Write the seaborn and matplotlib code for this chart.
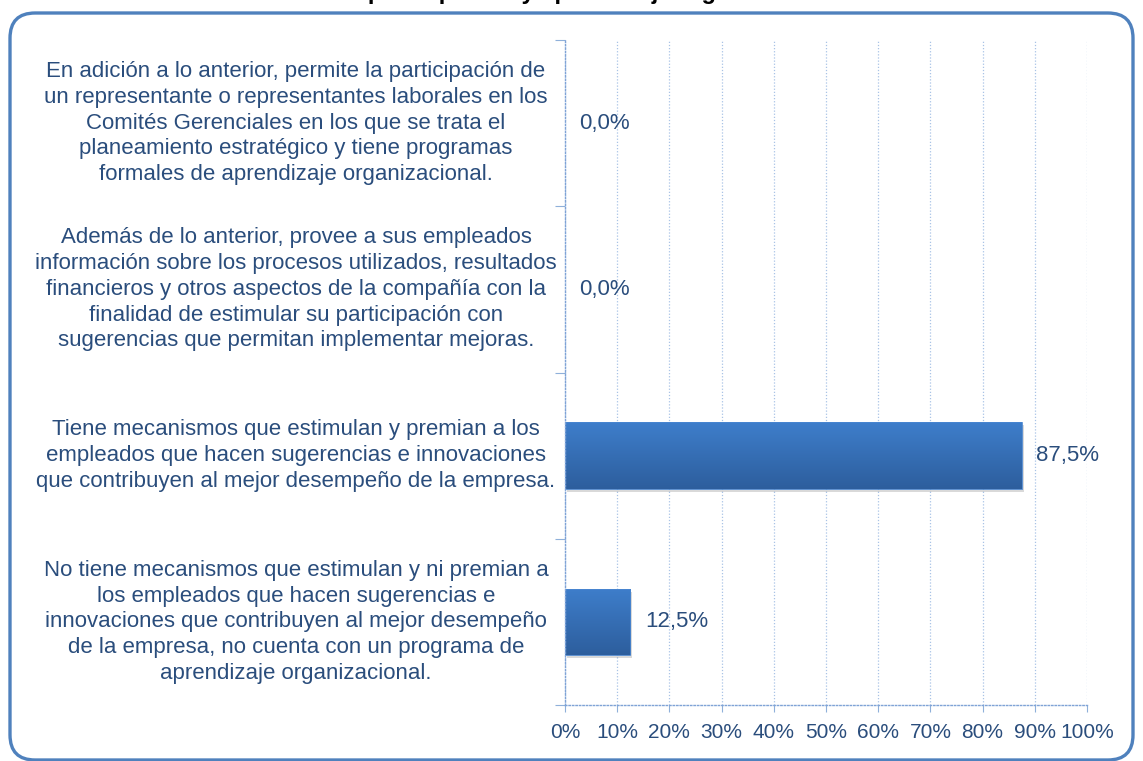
import numpy as np
import pandas as pd
import matplotlib
matplotlib.use("Agg")
import matplotlib.pyplot as plt
import seaborn as sns
from matplotlib.patches import FancyBboxPatch, Rectangle
from matplotlib.colors import LinearSegmentedColormap
import matplotlib.transforms as mtransforms

categories = [
    "En adición a lo anterior, permite la participación de\nun representante o representantes laborales en los\nComités Gerenciales en los que se trata el\nplaneamiento estratégico y tiene programas\nformales de aprendizaje organizacional.",
    "Además de lo anterior, provee a sus empleados\ninformación sobre los procesos utilizados, resultados\nfinancieros y otros aspectos de la compañía con la\nfinalidad de estimular su participación con\nsugerencias que permitan implementar mejoras.",
    "Tiene mecanismos que estimulan y premian a los\nempleados que hacen sugerencias e innovaciones\nque contribuyen al mejor desempeño de la empresa.",
    "No tiene mecanismos que estimulan y ni premian a\nlos empleados que hacen sugerencias e\ninnovaciones que contribuyen al mejor desempeño\nde la empresa, no cuenta con un programa de\naprendizaje organizacional.",
]
values = [0.0, 0.0, 87.5, 12.5]
value_labels = ["0,0%", "0,0%", "87,5%", "12,5%"]
xticks = [0, 10, 20, 30, 40, 50, 60, 70, 80, 90, 100]
xtick_labels = [f"{t}%" for t in xticks]
title = "Mecanismos de participación y aprendizaje organizacional"

sns.set_theme(style="white")
plt.rcParams["font.family"] = ["Liberation Sans", "DejaVu Sans"]

W, H = 1143, 761
fig = plt.figure(figsize=(W / 100, H / 100), dpi=100)
fig.patch.set_facecolor("white")

# rounded border
border = FancyBboxPatch((10 / W, 1 / H), (W - 20) / W, (H - 14) / H,
                        boxstyle="round,pad=0,rounding_size=0.022",
                        transform=fig.transFigure, fill=False,
                        edgecolor="#4F81BD", linewidth=2.4, mutation_aspect=W / H)
fig.patches.append(border)

fig.text(0.45, 1.0 + 1 / H, title, ha="center", va="baseline",
         fontsize=17, fontweight="bold", color="black")

ax = fig.add_axes([565 / W, 1 - 705 / H, (1087 - 565) / W, (705 - 40) / H])
df = pd.DataFrame({"cat": categories, "val": values})
sns.barplot(data=df, x="val", y="cat", orient="h", ax=ax, width=0.4,
            color="#3A74BF", saturation=1)

text_color = "#2A4D7C"
cmap = LinearSegmentedColormap.from_list("g", ["#3E7ECB", "#2D5E9D"])
grad = np.linspace(0, 1, 256).reshape(-1, 1)
for p in list(ax.patches):
    x0, y0 = p.get_x(), p.get_y()
    w, h = p.get_width(), p.get_height()
    if w <= 0:
        continue
    sh = Rectangle((x0, y0), w, h, facecolor="#000000", alpha=0.15, edgecolor="none",
                   transform=ax.transData + mtransforms.ScaledTranslation(2 / 100, -3 / 100, fig.dpi_scale_trans),
                   zorder=1.5)
    ax.add_patch(sh)
    im = ax.imshow(grad, aspect="auto", cmap=cmap, extent=(x0, x0 + w, y0 + h, y0),
                   zorder=2, interpolation="bilinear")
    im.set_clip_path(p)
    p.set_facecolor("none")
    p.set_edgecolor("#4A86D0")
    p.set_linewidth(0.6)
    p.set_zorder(2.5)
ax.set_xlim(0, 100)
ax.set_ylim(len(categories) - 0.5, -0.5)

for i, (v, lab) in enumerate(zip(values, value_labels)):
    ax.text(v + 2.8, i, lab, ha="left", va="center", fontsize=16, color=text_color, zorder=4)

ax.set_yticks([])
ax.set_yticks([-0.5, 0.5, 1.5, 2.5, 3.5], minor=True)
ax.tick_params(axis="y", which="minor", length=7, color="#8FB0DA", width=0.8, left=True)
ax.set_ylabel("")
ax.set_xlabel("")

trans = mtransforms.blended_transform_factory(fig.transFigure, ax.transData)
for i, c in enumerate(categories):
    fig.text(296 / W, i, c, transform=trans, ha="center", va="center",
             multialignment="center", fontsize=16, color=text_color, linespacing=1.3)

ax.set_xticks(xticks)
ax.set_xticklabels(xtick_labels, fontsize=15, color=text_color)
ax.tick_params(axis="x", which="major", length=5, color="#8FB0DA", width=0.8, bottom=True, pad=8)
ax.grid(axis="x", color="#A9C3E6", linestyle=(0, (1, 1.5)), linewidth=0.9)
ax.grid(axis="y", visible=False)
ax.set_axisbelow(True)
for s in ["top", "right"]:
    ax.spines[s].set_visible(False)
for s in ["left", "bottom"]:
    ax.spines[s].set_color("#7FA3D6")
    ax.spines[s].set_linestyle((0, (1, 1.5)))
    ax.spines[s].set_linewidth(1.0)

fig.savefig("out.png", dpi=100)
